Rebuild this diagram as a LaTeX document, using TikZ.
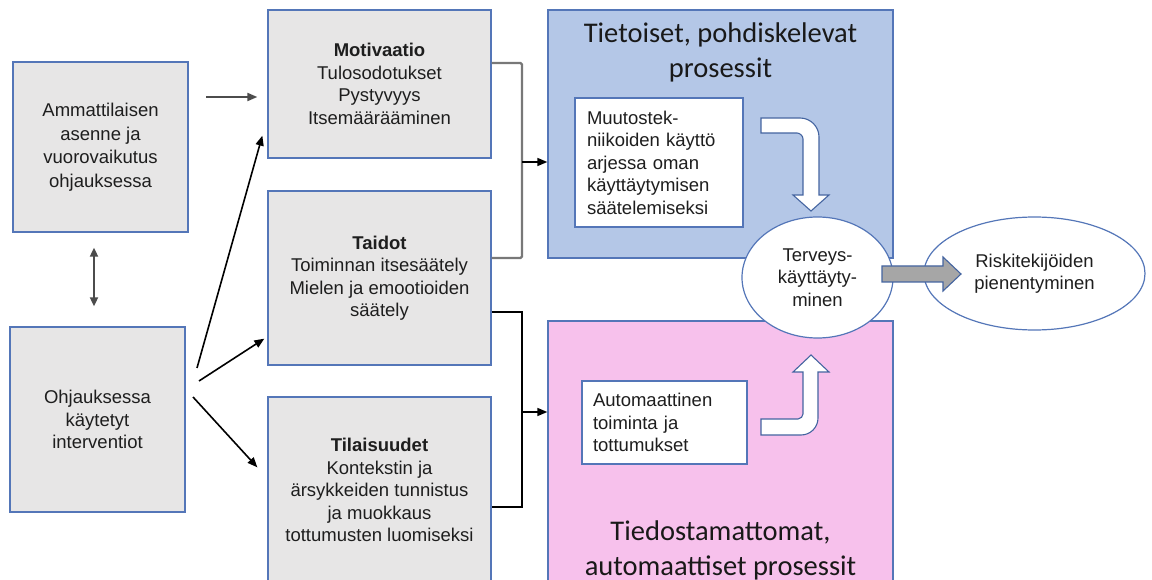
\documentclass[tikz,border=0pt]{standalone}
\usepackage{fontspec}
\setmainfont{Liberation Sans}
\newfontfamily\titlefont{Carlito}
\usetikzlibrary{arrows.meta,shapes.geometric}
\definecolor{boxgray}{RGB}{231,230,230}
\definecolor{boxline}{RGB}{84,118,184}
\definecolor{bluefill}{RGB}{180,199,231}
\definecolor{pinkfill}{RGB}{247,193,236}
\definecolor{blockline}{RGB}{68,100,160}
\definecolor{txt}{RGB}{30,30,30}
\definecolor{arrgray}{RGB}{166,166,166}
\definecolor{linegray}{RGB}{120,120,120}
\begin{document}
\begin{tikzpicture}[x=1pt,y=-1pt,
  every node/.style={text=txt},
  txtfont/.style={font=\fontsize{18.5}{22.5}\selectfont},
  graybox/.style={draw=boxline,line width=1.3pt,fill=boxgray,rectangle,inner sep=0pt,align=center,txtfont},
  procbox/.style={draw=boxline,line width=1.3pt,rectangle,inner sep=0pt},
  whitebox/.style={draw=boxline,line width=1.1pt,fill=white,rectangle,inner ysep=0pt,align=left,txtfont},
  oval/.style={draw=boxline,line width=1.2pt,fill=white,ellipse,inner sep=0pt,align=center,txtfont},
  title/.style={font=\titlefont\fontsize{28.5}{35}\selectfont,align=center,text=black!90},
  arr/.style={line width=1.6pt,-{Triangle[length=10pt,width=8pt]}},
  darr/.style={line width=1.8pt,draw=black!70,{Triangle[length=9pt,width=8pt]}-{Triangle[length=9pt,width=8pt]}},
  blockarrow/.style={fill=white,draw=blockline,line width=1.1pt,line join=miter}
]
\useasboundingbox (0,0) rectangle (1152,580);
\clip (0,0) rectangle (1152,580);

% process areas
\node[procbox,fill=bluefill,minimum width=345pt,minimum height=248pt] (blue) at (720.5,134) {};
\node[procbox,fill=pinkfill,minimum width=345pt,minimum height=279pt] (pink) at (720.5,460.5) {};
\node[title] (bluetitle) at (720.5,52.5) {Tietoiset, pohdiskelevat\\prosessit};
\node[title] (pinktitle) at (720.5,550) {Tiedostamattomat,\\automaattiset prosessit};

% left boxes
\node[graybox,minimum width=175pt,minimum height=170pt,font=\fontsize{18.5}{23.5}\selectfont] (A) at (100.5,147)
  {Ammattilaisen\\asenne ja\\vuorovaikutus\\ohjauksessa};
\node[graybox,minimum width=175pt,minimum height=185pt] (O) at (97.5,419.5)
  {Ohjauksessa\\käytetyt\\interventiot};

% middle boxes
\node[graybox,minimum width=223pt,minimum height=148pt] (mot) at (379.5,84)
  {\textbf{Motivaatio}\\Tulosodotukset\\Pystyvyys\\Itsemäärääminen};
\node[graybox,minimum width=223pt,minimum height=174pt] (tai) at (379.5,278)
  {\textbf{Taidot}\\Toiminnan itsesäätely\\Mielen ja emootioiden\\säätely};
\node[graybox,minimum width=223pt,minimum height=186pt] (til) at (379.5,490)
  {\textbf{Tilaisuudet}\\Kontekstin ja\\ärsykkeiden tunnistus\\ja muokkaus\\tottumusten luomiseksi};

% white boxes inside process areas
\node[whitebox,text width=144pt,inner xsep=12pt,minimum height=129pt] (muutos) at (659,162.5)
  {Muutostek-\\niikoiden käyttö\\arjessa oman\\käyttäytymisen\\säätelemiseksi};
\node[whitebox,text width=143pt,inner xsep=11pt,minimum height=83pt] (auto) at (664.5,422.5)
  {Automaattinen\\toiminta ja\\tottumukset};

% curved block arrows
\draw[blockarrow] (761,118) -- (800,118) .. controls (810.5,118) and (819,126.5) .. (819,137)
  -- (819,195) -- (829,195) -- (811,211) -- (793,195) -- (803,195) -- (803,139)
  .. controls (803,135.7) and (799.7,133) .. (797,133) -- (761,133) -- cycle;
\draw[blockarrow] (761,419) -- (798,419) .. controls (800.8,419) and (803,416.2) .. (803,414)
  -- (803,372) -- (793,372) -- (811,355) -- (829,372) -- (818,372) -- (818,418)
  .. controls (818,427.4) and (810.4,435) .. (801,435) -- (761,435) -- cycle;

% ellipses
\node[oval,minimum width=151pt,minimum height=121pt] (terv) at (817.5,277.5)
  {Terveys-\\käyttäyty-\\minen};
\node[oval,minimum width=221pt,minimum height=113pt] (risk) at (1034.5,273.5)
  {Riskitekijöiden\\pienentyminen};

% gray block arrow between ellipses
\draw[fill=arrgray,draw=blockline,line width=1.1pt,line join=miter]
  (882,266) -- (943,266) -- (943,257) -- (961,274) -- (943,291) -- (943,282) -- (882,282) -- cycle;

% connectors on the left
\draw[darr] ([xshift=-6.5pt,yshift=-15pt]A.south) -- ([xshift=-3.5pt,yshift=20pt]O.north);
\coordinate (a1) at (206,97);
\draw[arr,draw=black!70,line width=2pt] (a1) -- ([xshift=-10pt]a1 -| mot.west);
\coordinate (o1) at (197,368);
\coordinate (o2) at (199,381);
\coordinate (o3) at (193,397);
\draw[arr] (o1) -- ([xshift=-5pt,yshift=23pt]mot.south west);
\draw[arr] (o2) -- ([xshift=-3pt,yshift=27pt]tai.south west);
\draw[arr] (o3) -- ([xshift=-10pt,yshift=-71pt]til.north west);

% brackets into process areas
\coordinate (j1) at (522,162);
\coordinate (j2) at (522,412);
\draw[draw=linegray,line width=2.4pt,rounded corners=1.5pt] ([yshift=21pt]mot.east) -| (j1) |- ([yshift=20pt]tai.east);
\draw[arr] (j1) -- (j1 -| blue.west);
\draw[line width=1.5pt] ([yshift=-34pt]tai.east) -| (j2) |- ([yshift=-17pt]til.east);
\draw[arr] (j2) -- (j2 -| pink.west);
\end{tikzpicture}
\end{document}
